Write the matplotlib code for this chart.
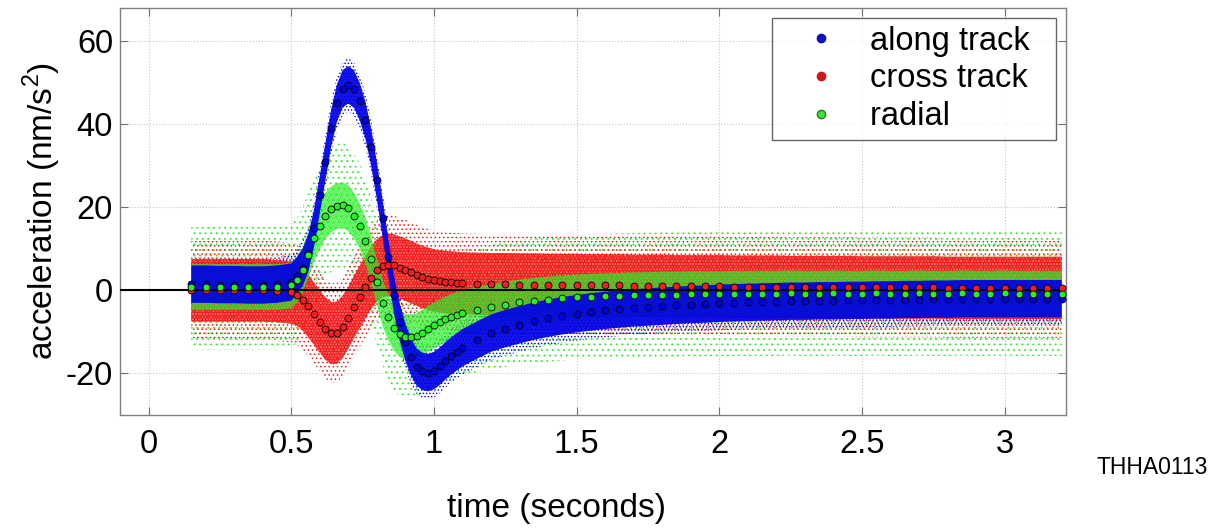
import numpy as np
import matplotlib
matplotlib.use('Agg')
import matplotlib.pyplot as plt
from matplotlib.lines import Line2D

plt.rcParams['font.family'] = ['Liberation Sans', 'DejaVu Sans']
plt.rcParams['mathtext.fontset'] = 'custom'
plt.rcParams['mathtext.rm'] = 'Liberation Sans'
plt.rcParams['axes.unicode_minus'] = False
plt.rcParams['hatch.linewidth'] = 1.0

# times of the bin-averaged points (seconds)
t_mean = [0.15, 0.20, 0.25, 0.30, 0.35, 0.40, 0.45, 0.50,
          0.52, 0.54, 0.56, 0.58, 0.60, 0.62, 0.64, 0.66, 0.68, 0.70,
          0.72, 0.74, 0.76, 0.78, 0.80, 0.82, 0.84, 0.86, 0.88, 0.90,
          0.92, 0.94, 0.96, 0.98, 1.00, 1.02, 1.04, 1.06, 1.08, 1.10,
          1.15, 1.20, 1.25, 1.30, 1.35, 1.40, 1.45, 1.50, 1.55, 1.60,
          1.65, 1.70, 1.75, 1.80, 1.85, 1.90, 1.95, 2.00, 2.05, 2.10,
          2.15, 2.20, 2.25, 2.30, 2.35, 2.40, 2.45, 2.50, 2.55, 2.60,
          2.65, 2.70, 2.75, 2.80, 2.85, 2.90, 2.95, 3.00, 3.05, 3.10,
          3.15, 3.20]

# along track (nm/s^2)
along = [1.5, 1.5, 1.4, 1.4, 1.3, 1.3, 1.5, 2.0,
         3.5, 5.5, 9.0, 15.0, 23.0, 31.0, 39.0, 45.0, 48.5, 49.5,
         48.5, 45.5, 41.0, 34.5, 26.5, 17.5, 8.0, -1.0, -7.5, -12.5,
         -16.0, -18.5, -19.5, -19.8, -19.3, -18.3, -17.0, -15.8, -14.8, -13.8,
         -12.0, -10.3, -9.2, -8.3, -7.4, -6.7, -6.1, -5.6, -5.2, -4.8,
         -4.5, -4.2, -4.0, -3.8, -3.6, -3.4, -3.3, -3.1, -3.0, -2.9,
         -2.8, -2.7, -2.6, -2.6, -2.5, -2.5, -2.4, -2.4, -2.3, -2.3,
         -2.2, -2.2, -2.1, -2.1, -2.0, -2.0, -2.0, -2.0, -2.0, -2.0,
         -2.0, -2.0]

# cross track
cross = [0.0, 0.0, 0.0, 0.0, 0.0, 0.0, -0.2, -0.5,
         -1.0, -2.2, -3.8, -5.6, -7.5, -9.2, -10.3, -10.2, -8.8, -6.6,
         -4.0, -1.6, 0.8, 3.0, 4.8, 5.8, 6.2, 6.0, 5.5, 5.0,
         4.4, 3.8, 3.2, 2.8, 2.4, 2.2, 2.0, 1.9, 1.8, 1.7,
         1.6, 1.5, 1.5, 1.4, 1.4, 1.3, 1.3, 1.3, 1.2, 1.2,
         1.2, 1.1, 1.1, 1.1, 1.0, 1.0, 1.0, 1.0, 0.9, 0.9,
         0.9, 0.9, 0.8, 0.8, 0.8, 0.8, 0.8, 0.7, 0.7, 0.7,
         0.7, 0.7, 0.7, 0.6, 0.6, 0.6, 0.6, 0.6, 0.6, 0.6,
         0.6, 0.6]

# radial
radial = [0.8, 0.8, 0.8, 0.8, 0.8, 0.8, 0.8, 1.2,
          2.5, 5.0, 8.5, 12.5, 15.5, 18.0, 19.5, 20.3, 20.5, 19.8,
          18.0, 15.5, 12.0, 7.5, 2.0, -3.0, -6.5, -9.0, -10.5, -11.2,
          -11.3, -11.0, -10.2, -9.2, -8.4, -7.7, -7.0, -6.4, -5.9, -5.4,
          -4.7, -4.0, -3.4, -2.9, -2.5, -2.2, -1.9, -1.7, -1.5, -1.4,
          -1.3, -1.2, -1.1, -1.0, -1.0, -0.9, -0.9, -0.9, -0.8, -0.8,
          -0.8, -0.8, -0.7, -0.8, -0.8, -0.7, -0.8, -0.8, -0.7, -0.8,
          -0.8, -0.7, -0.8, -0.8, -0.7, -0.8, -0.8, -0.7, -0.8, -0.8,
          -0.8, -0.8]

# half-widths of the raw sample cloud: dense core and sparse fringe
core_hw = {'along': 4.5, 'cross': 7.5, 'radial': 5.5}
fringe_hw = {'along': 6.5, 'cross': 12.0, 'radial': 15.0}

labels = ['along track  ', 'cross track  ', 'radial  ']
cols = {'along': '#0000e6', 'cross': '#f41c1c', 'radial': '#28f028'}
legend_cols = ['#1010c0', '#d01818', '#3ee03e']

t = np.array(t_mean)
series = {'along': np.array(along), 'cross': np.array(cross), 'radial': np.array(radial)}


def stipple(ax, key, hw, dens, lw, z):
    m = series[key]
    pc = ax.fill_between(t, m - hw, m + hw, facecolor='none', edgecolor=cols[key],
                         hatch=dens, linewidth=0, zorder=z)
    if hasattr(pc, 'set_hatch_linewidth'):
        pc.set_hatch_linewidth(lw)
    return pc


def tint(ax, key, hw, a, z):
    m = series[key]
    ax.fill_between(t, m - hw, m + hw, facecolor=cols[key], alpha=a,
                    linewidth=0, zorder=z)


fig = plt.figure(figsize=(12.18, 5.28), dpi=100)
ax = fig.add_axes([0.0985, 0.214, 0.7767, 0.771])

# sparse fringe of the raw samples
stipple(ax, 'radial', fringe_hw['radial'], '...', 0.6, 1)
stipple(ax, 'cross', fringe_hw['cross'], '....', 0.6, 1)
stipple(ax, 'along', fringe_hw['along'], '.....', 0.6, 1)

# dense core: red and green interleaved, blue solid
tint(ax, 'cross', core_hw['cross'], 0.6, 2)
stipple(ax, 'cross', core_hw['cross'], '......', 2.0, 2)
tint(ax, 'radial', core_hw['radial'], 0.3, 2)
stipple(ax, 'radial', core_hw['radial'], '.......', 1.4, 2)
tint(ax, 'along', core_hw['along'], 0.92, 2)

ax.axhline(0, color='black', lw=1.5, zorder=3)

# bin averages
for key in ['cross', 'along', 'radial']:
    ax.plot(t, series[key], 'o', ms=5, mfc=cols[key], mec='black', mew=0.6,
            zorder=4)

ax.set_xlim(-0.1, 3.215)
ax.set_ylim(-30, 68)
ax.set_xticks([0, 0.5, 1, 1.5, 2, 2.5, 3])
ax.set_xticklabels(['0', '0.5', '1', '1.5', '2', '2.5', '3'])
ax.set_yticks([-20, 0, 20, 40, 60])
ax.tick_params(direction='in', top=True, right=True, length=6, width=0.8,
               color='#707070', labelsize=23.5)
ax.tick_params(axis='x', pad=10)
ax.tick_params(axis='y', pad=5)
ax.grid(True, linestyle=':', color='#c8c8c8', linewidth=0.8)
ax.set_axisbelow(True)
for sp in ax.spines.values():
    sp.set_color('#808080')
    sp.set_linewidth(1.0)

ax.set_ylabel('acceleration (nm/s$^{\\mathrm{2}}$)', fontsize=24)
ax.yaxis.label.set_va('center')
ax.yaxis.set_label_coords(-0.082, 0.5)
ax.set_xlabel('time (seconds)', fontsize=24)
ax.xaxis.label.set_va('center')
ax.xaxis.set_label_coords(0.461, -0.2285)

handles = [Line2D([], [], ls='none', marker='o', ms=6, mfc=c, mec=c) for c in legend_cols]
handles[2].set_markeredgecolor('#208020')
leg = ax.legend(handles, labels, loc='upper right', fontsize=23.5, frameon=True,
                fancybox=False, borderaxespad=0.3, handletextpad=0.25,
                labelspacing=0.2, borderpad=0.25, handlelength=2.5)
leg.get_frame().set_edgecolor('#404040')
leg.get_frame().set_linewidth(1.0)

fig.text(0.992, 0.115, 'THHA0113', ha='right', va='center', fontsize=16.5)

fig.savefig('out.png', dpi=100)
